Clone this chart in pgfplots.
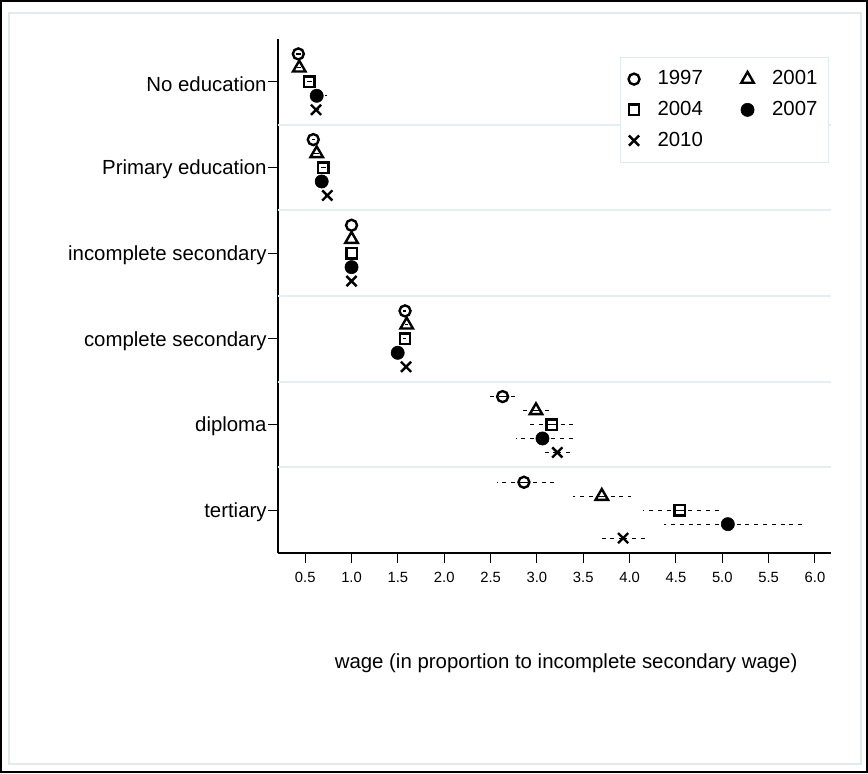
\documentclass[border=0pt]{standalone}
\usepackage{pgfplots}
\pgfplotsset{compat=1.18}
\usepackage{pgfplotstable}
\usepackage{fontspec}
\setmainfont{Liberation Sans}

\definecolor{gridblue}{RGB}{230,238,242}
\definecolor{framegray}{RGB}{226,234,238}

% columns: point estimate, row position, lower and upper bound of the interval
\pgfplotstableread{
x     y      lo    hi
0.426  0.326 0.40  0.45
0.587 -0.674 0.57  0.61
1.000 -1.674 1.00  1.00
1.577 -2.674 1.56  1.59
2.63  -3.674 2.48  2.81
2.86  -4.674 2.57  3.19
}\yrA
\pgfplotstableread{
x     y      lo    hi
0.436  0.163 0.41  0.46
0.624 -0.837 0.60  0.65
1.000 -1.837 1.00  1.00
1.595 -2.837 1.58  1.61
2.99  -3.837 2.81  3.14
3.70  -4.837 3.39  4.02
}\yrB
\pgfplotstableread{
x     y      lo    hi
0.544  0.000 0.52  0.57
0.695 -1.000 0.67  0.72
1.000 -2.000 1.00  1.00
1.577 -3.000 1.56  1.59
3.16  -4.000 2.93  3.42
4.54  -5.000 4.14  4.96
}\yrC
\pgfplotstableread{
x     y      lo    hi
0.624 -0.163 0.53  0.735
0.678 -1.163 0.65  0.70
1.000 -2.163 1.00  1.00
1.498 -3.163 1.48  1.51
3.06  -4.163 2.77  3.39
5.06  -5.163 4.37  5.87
}\yrD
\pgfplotstableread{
x     y      lo    hi
0.617 -0.326 0.59  0.645
0.738 -1.326 0.71  0.76
1.000 -2.326 1.00  1.00
1.588 -3.326 1.57  1.60
3.22  -4.326 3.04  3.375
3.93  -5.326 3.66  4.195
}\yrE

\newcommand{\bigfont}{\fontsize{10.2}{12}\selectfont}
\newcommand{\smallfont}{\fontsize{7.4}{9}\selectfont}

\pgfplotsset{
  ci/.style={
    only marks, black, line width=1.2pt, mark options={solid, line width=1.2pt},
    /pgfplots/error bars/x dir=both,
    /pgfplots/error bars/x explicit,
    /pgfplots/error bars/error mark=none,
    /pgfplots/error bars/error bar style={line width=0.6pt, black, dash pattern=on 2pt off 2.4pt},
  },
  /pgfplots/table/citable/.style={x=x, y=y, x error plus expr=\thisrow{hi}-\thisrow{x}, x error minus expr=\thisrow{x}-\thisrow{lo}},
}

\begin{document}
\begin{tikzpicture}
% outer and inner frames
\draw[black, line width=1pt] (0.5pt,-0.5pt) rectangle (433.5pt,-386pt);
\draw[framegray, line width=1pt] (4.5pt,-6.5pt) rectangle (430.5pt,-382pt);

\begin{axis}[
  at={(139pt,-276.5pt)}, anchor=south west,
  scale only axis, width=276.5pt, height=257pt,
  xmin=0.2065, xmax=6.173, ymin=-5.5, ymax=0.5,
  axis x line*=bottom, axis y line*=left,
  axis line style={line width=0.75pt, -},
  tick align=outside, major tick length=5pt,
  tick style={line width=0.5pt, black},
  xtick={0.5,1,...,6},
  ytick={-5,-4,-3,-2,-1,0},
  yticklabels={tertiary, diploma, complete secondary, incomplete secondary, Primary education, No education},
  xticklabel style={font=\smallfont, yshift=-1pt, /pgf/number format/.cd, fixed, fixed zerofill, precision=1, assume math mode=true},
  yticklabel style={font=\bigfont, inner xsep=0.5pt, yshift=-1pt},
  extra y ticks={-4.5,-3.5,-2.5,-1.5,-0.5},
  extra y tick labels={},
  extra y tick style={grid=major, major tick length=0pt, major grid style={gridblue, line width=1pt}},
  xlabel={wage (in proportion to incomplete secondary wage)},
  xlabel style={font=\bigfont, at={(axis description cs:0.521,-0.214)}, anchor=center},
  legend columns=2,
  legend image code/.code={\draw[mark repeat=2, mark phase=2] plot coordinates {(0pt,0pt) (3.5pt,0pt) (7pt,0pt)};},
  legend style={at={(0.9964,0.965)}, anchor=north east, draw=framegray, line width=0.5pt, fill=white,
    font=\bigfont, inner xsep=4pt, inner ysep=6.5pt, row sep=6.75pt,
    nodes={inner sep=0pt},
    /tikz/every odd column/.append style={column sep=9pt},
    /tikz/every even column/.append style={column sep=19pt}},
  legend cell align=left,
]
\addplot[ci, mark=o, mark size=2.75pt] table[citable] {\yrA};
\addlegendentry{1997}
\addplot[ci, mark=triangle, mark size=3.6pt] table[citable] {\yrB};
\addlegendentry{2001\hspace*{1.5pt}}
\addplot[ci, mark=square, mark size=2.6pt] table[citable] {\yrC};
\addlegendentry{2004}
\addplot[ci, mark=*, mark size=3.3pt, mark options={line width=0.3pt}] table[citable] {\yrD};
\addlegendentry{2007\hspace*{1.5pt}}
\addplot[ci, mark=x, mark size=3.6pt] table[citable] {\yrE};
\addlegendentry{2010}
\end{axis}

\pgfresetboundingbox
\path (0pt,0pt) rectangle (434pt,-386.5pt);
\end{tikzpicture}
\end{document}
